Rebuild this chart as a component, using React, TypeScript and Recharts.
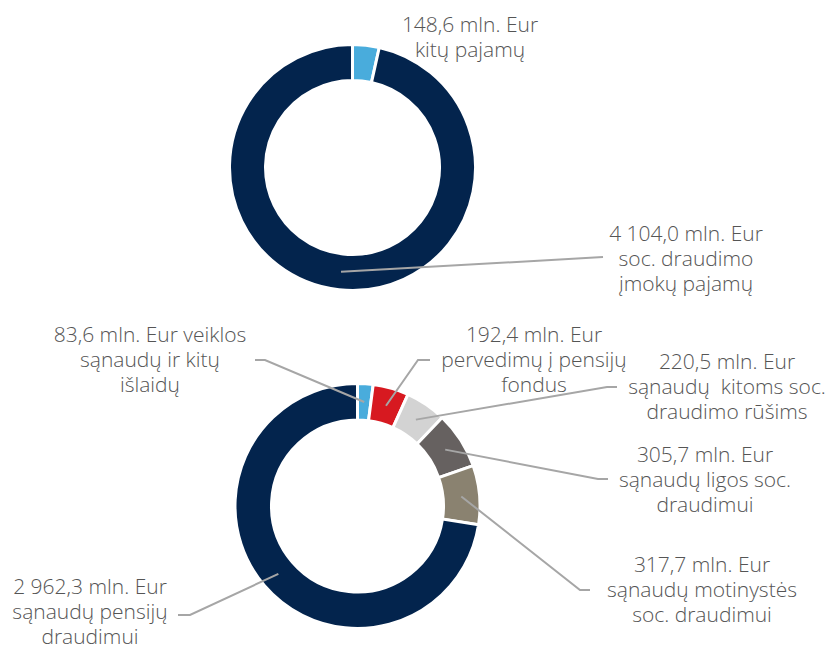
import React from "react";
import { PieChart, Pie, Cell } from "recharts";

// top: income
const incomeNames = ["kitų pajamų", "soc. draudimo įmokų pajamų"];
const incomeValues = [148.6, 4104.0];
const incomeLabels = [
  ["148,6 mln. Eur", "kitų pajamų"],
  ["4 104,0 mln. Eur", "soc. draudimo", "įmokų pajamų"],
];

// bottom: expenses
const expenseNames = [
  "veiklos sąnaudų ir kitų išlaidų",
  "pervedimų į pensijų fondus",
  "sąnaudų kitoms soc. draudimo rūšims",
  "sąnaudų ligos soc. draudimui",
  "sąnaudų motinystės soc. draudimui",
  "sąnaudų pensijų draudimui",
];
const expenseValues = [83.6, 192.4, 220.5, 305.7, 317.7, 2962.3];
const expenseLabels = [
  ["83,6 mln. Eur veiklos", "sąnaudų ir kitų", "išlaidų"],
  ["192,4 mln. Eur", "pervedimų į pensijų", "fondus"],
  ["220,5 mln. Eur", "sąnaudų  kitoms soc.", "draudimo rūšims"],
  ["305,7 mln. Eur", "sąnaudų ligos soc.", "draudimui"],
  ["317,7 mln. Eur", "sąnaudų motinystės", "soc. draudimui"],
  ["2 962,3 mln. Eur", "sąnaudų pensijų", "draudimui"],
];

const incomeColors = ["#49ACDC", "#03244D"];
const expenseColors = ["#49ACDC", "#D71920", "#D3D3D3", "#666160", "#8A8270", "#03244D"];

// label placement: text centre x, first baseline, leader end (at text) and elbow
type Place = { tx: number; ty: number; end?: [number, number]; elbow?: [number, number] };
const incomePlace: Place[] = [
  { tx: 470, ty: 32 },
  { tx: 686, ty: 241, end: [603, 257] },
];
const expensePlace: Place[] = [
  { tx: 150, ty: 342, end: [255, 360], elbow: [265, 360] },
  { tx: 534, ty: 342, end: [430, 360], elbow: [418, 360] },
  { tx: 727, ty: 369, end: [617, 387], elbow: [607, 387] },
  { tx: 705, ty: 462, end: [608, 479], elbow: [598, 479] },
  { tx: 702, ty: 572, end: [590, 590], elbow: [580, 590] },
  { tx: 90, ty: 594, end: [178, 615], elbow: [190, 615] },
];

const RAD = Math.PI / 180;
const font = "'Open Sans', sans-serif";

const makeLabel = (texts: string[][], places: Place[]) => (props: any) => {
  const { cx, cy, midAngle, innerRadius, outerRadius, index } = props;
  const p = places[index];
  const r = (innerRadius + outerRadius) / 2;
  const px = cx + r * Math.cos(-midAngle * RAD);
  const py = cy + r * Math.sin(-midAngle * RAD);
  let pts = "";
  if (p.end) {
    const arr = p.elbow ? [p.end, p.elbow, [px, py]] : [p.end, [px, py]];
    pts = arr.map((a) => a.join(",")).join(" ");
  }
  return (
    <g key={`lbl-${index}`}>
      {pts && <polyline points={pts} fill="none" stroke="#A6A6A6" strokeWidth={2} />}
      <text
        x={p.tx}
        y={p.ty}
        textAnchor="middle"
        fill="#555555"
        fontSize={21}
        fontWeight={300}
        fontFamily={font}
        style={{ whiteSpace: "pre" }}
      >
        {texts[index].map((t, i) => (
          <tspan key={i} x={p.tx} y={p.ty + i * 25}>
            {t}
          </tspan>
        ))}
      </text>
    </g>
  );
};

export default function App() {
  const incomeData = incomeNames.map((name, i) => ({ name, value: incomeValues[i] }));
  const expenseData = expenseNames.map((name, i) => ({ name, value: expenseValues[i] }));
  return (
    <div style={{ position: "absolute", left: 0, top: 0, background: "#fff" }}>
      <PieChart width={834} height={650} margin={{ top: 0, right: 0, bottom: 0, left: 0 }}>
        <Pie
          data={incomeData}
          dataKey="value"
          cx={352.5}
          cy={167.5}
          innerRadius={87}
          outerRadius={123}
          startAngle={90}
          endAngle={-270}
          stroke="#fff"
          strokeWidth={3}
          label={makeLabel(incomeLabels, incomePlace)}
          labelLine={false}
          isAnimationActive={false}
        >
          {incomeData.map((_, i) => (
            <Cell key={i} fill={incomeColors[i]} />
          ))}
        </Pie>
        <Pie
          data={expenseData}
          dataKey="value"
          cx={357.5}
          cy={506}
          innerRadius={86}
          outerRadius={122.5}
          startAngle={90}
          endAngle={-270}
          stroke="#fff"
          strokeWidth={3}
          label={makeLabel(expenseLabels, expensePlace)}
          labelLine={false}
          isAnimationActive={false}
        >
          {expenseData.map((_, i) => (
            <Cell key={i} fill={expenseColors[i]} />
          ))}
        </Pie>
      </PieChart>
    </div>
  );
}
